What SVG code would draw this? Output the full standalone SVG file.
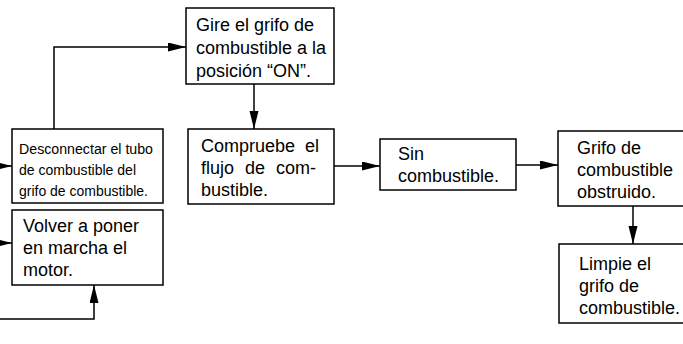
<svg xmlns="http://www.w3.org/2000/svg" width="683" height="344" viewBox="0 0 683 344">
<style>
.box{fill:#fff;stroke:#000;stroke-width:1.5}
.t{font-family:"Liberation Sans",Arial,sans-serif;font-size:18px;fill:#000}
.s{font-family:"Liberation Sans",Arial,sans-serif;font-size:15.5px;fill:#000}
.c{fill:none;stroke:#000;stroke-width:1.5}
</style>
<defs>
<marker id="ah" markerUnits="userSpaceOnUse" markerWidth="18" markerHeight="10" refX="18" refY="4.5" orient="auto">
<path d="M0,0 L18,4.5 L0,9 z" fill="#000"/>
</marker>
</defs>
<rect width="683" height="344" fill="#fff"/>
<g id="connectors">
<path class="c" d="M54,129 V47 H186" marker-end="url(#ah)"/>
<path class="c" d="M254,84 V129" marker-end="url(#ah)"/>
<path class="c" d="M334,166 H380" marker-end="url(#ah)"/>
<path class="c" d="M516,165 H558" marker-end="url(#ah)"/>
<path class="c" d="M633,206 V244" marker-end="url(#ah)"/>
<path class="c" d="M-10,166 H12" marker-end="url(#ah)"/>
<path class="c" d="M-10,243 H12" marker-end="url(#ah)"/>
<path class="c" d="M-5,319 H94 V285" marker-end="url(#ah)"/>
</g>
<g id="gire">
<rect class="box" x="186" y="8" width="148" height="76"/>
<text class="t"><tspan x="196" y="31">Gire el grifo de</tspan><tspan x="196" y="54">combustible a la</tspan><tspan x="196" y="77">posición “ON”.</tspan></text>
</g>
<g id="desconnectar">
<rect class="box" x="12" y="129" width="151" height="74"/>
<text class="s" x="19" y="154" textLength="134" lengthAdjust="spacingAndGlyphs">Desconnectar el tubo</text>
<text class="s" x="19" y="175" textLength="117" lengthAdjust="spacingAndGlyphs">de combustible del</text>
<text class="s" x="19" y="196" textLength="129" lengthAdjust="spacingAndGlyphs">grifo de combustible.</text>
</g>
<g id="volver">
<rect class="box" x="12" y="210" width="151" height="75"/>
<text class="t"><tspan x="23" y="232">Volver a poner</tspan><tspan x="23" y="254">en marcha el</tspan><tspan x="23" y="276">motor.</tspan></text>
</g>
<g id="compruebe">
<rect class="box" x="188" y="129" width="146" height="75"/>
<text class="t"><tspan x="201" y="152">Compruebe</tspan><tspan x="305" y="152">el</tspan><tspan x="201" y="174">flujo</tspan><tspan x="245" y="174">de</tspan><tspan x="276" y="174">com-</tspan><tspan x="201" y="196">bustible.</tspan></text>
</g>
<g id="sin">
<rect class="box" x="380" y="139" width="136" height="51"/>
<text class="t"><tspan x="398" y="160">Sin</tspan><tspan x="398" y="182">combustible.</tspan></text>
</g>
<g id="grifo">
<rect class="box" x="558" y="131" width="130" height="75"/>
<text class="t"><tspan x="577" y="154">Grifo de</tspan><tspan x="577" y="176">combustible</tspan><tspan x="577" y="198">obstruido.</tspan></text>
</g>
<g id="limpie">
<rect class="box" x="559" y="244" width="130" height="79"/>
<text class="t"><tspan x="579" y="270">Limpie el</tspan><tspan x="579" y="292">grifo de</tspan><tspan x="579" y="314">combustible.</tspan></text>
</g>
</svg>
